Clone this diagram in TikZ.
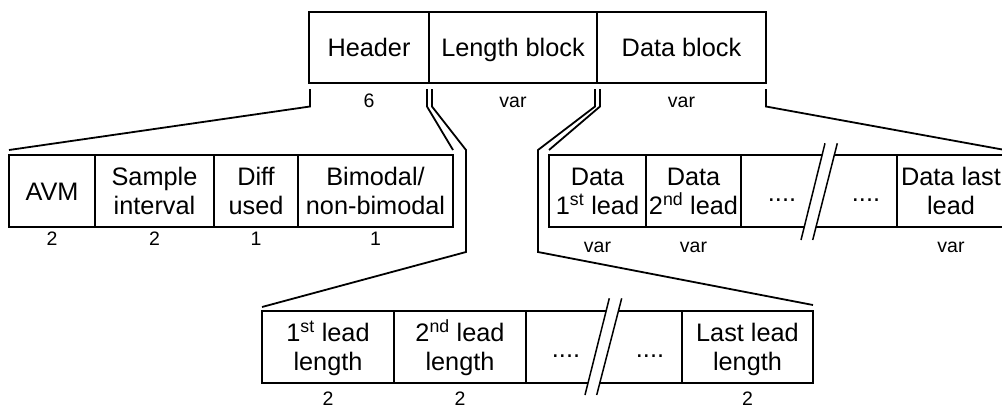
\documentclass[tikz,border=0pt]{standalone}
\usepackage{fontspec}
\setmainfont{Liberation Sans}
\begin{document}
\begin{tikzpicture}[x=1pt,y=-1pt,
  every path/.style={line width=1.8pt},
  cell/.style={draw, line width=1.8pt, inner sep=0pt, anchor=center,
    align=center, font=\fontsize{25.3}{29.5}\selectfont,
    text height=18.1pt, text depth=0pt},
  twoline/.style={text height=47.6pt},
  toprow/.style={cell, minimum height=71pt},
  row/.style={cell, minimum height=72pt},
  lbl/.style={anchor=base, inner sep=0pt, font=\fontsize{19.5}{22}\selectfont},
  dots/.style={anchor=base, inner sep=0pt, font=\fontsize{25.3}{29.5}\selectfont},
  conn/.style={draw, line width=1.8pt},
  slash/.style={line width=1.5pt}]
\useasboundingbox (0,0) rectangle (1002,408);

% top level record
\node[toprow, minimum width=120pt] (hdr)  at (369,47.5)   {Header};
\node[toprow, minimum width=168pt] (lenb) at (513,47.5)   {Length block};
\node[toprow, minimum width=169pt] (datb) at (681.5,47.5) {Data block};
\node[lbl] (hdrsz)  at (369,107)   {6};
\node[lbl] (lenbsz) at (513,107)   {var};
\node[lbl] (datbsz) at (681.5,107) {var};

% header fields
\node[row, minimum width=86pt]  (avm) at (52,191)    {AVM};
\node[row, twoline, minimum width=119pt] (smp) at (154.5,191) {Sample\\interval};
\node[row, twoline, minimum width=84pt]  (dif) at (256,191)   {Diff\\used};
\node[row, twoline, minimum width=155pt] (bim) at (375.5,191) {Bimodal/\\non-bimodal};
\node[lbl] (avmsz) at (52,245)    {2};
\node[lbl] (smpsz) at (154.5,245) {2};
\node[lbl] (difsz) at (256,245)   {1};
\node[lbl] (bimsz) at (375.5,245) {1};

% data block fields
\node[row, twoline, minimum width=97pt]  (d1) at (597.5,191) {Data\\1\textsuperscript{st} lead};
\node[row, twoline, minimum width=95pt]  (d2) at (693.5,191) {Data\\2\textsuperscript{nd} lead};
\node[row, minimum width=156pt] (dd) at (819,191) {};
\node[row, twoline, minimum width=108pt] (dl) at (951,191) {Data last\\lead};
\node[dots] (ddl) at (782,201) {....};
\node[dots] (ddr) at (866,201) {....};
\node[lbl] (d1sz) at (597.5,252) {var};
\node[lbl] (d2sz) at (693.5,252) {var};
\node[lbl] (dlsz) at (951,252)   {var};
\fill[white] (801,240) -- (812.7,240) -- (837.3,143.3) -- (825,143.3) -- cycle;
\draw[slash] (801,240) -- (825,143.3);
\draw[slash] (812.7,240) -- (837.3,143.3);

% length block fields
\node[row, twoline, minimum width=132pt] (l1) at (328,347) {1\textsuperscript{st} lead\\length};
\node[row, twoline, minimum width=132pt] (l2) at (460,347) {2\textsuperscript{nd} lead\\length};
\node[row, minimum width=156pt] (ld) at (604,347) {};
\node[row, twoline, minimum width=131pt] (ll) at (747.5,347) {Last lead\\length};
\node[dots] (ldl) at (566,357) {....};
\node[dots] (ldr) at (650,357) {....};
\node[lbl] (l1sz) at (328,405.5)   {2};
\node[lbl] (l2sz) at (460,405.5)   {2};
\node[lbl] (llsz) at (747.5,405.5) {2};
\fill[white] (585,395) -- (596.7,395) -- (621.7,298.3) -- (609.3,298.3) -- cycle;
\draw[slash] (585,395) -- (609.3,298.3);
\draw[slash] (596.7,395) -- (621.7,298.3);

% expansion brackets
\coordinate (hA) at (310,89);   \coordinate (hB) at (310,106.5); \coordinate (hC) at (9,150);
\coordinate (hD) at (427,89);   \coordinate (hE) at (427,106.5); \coordinate (hF) at (453,150);
\coordinate (lA) at (432,89);   \coordinate (lB) at (432,106.5); \coordinate (lC) at (466,150);
\coordinate (lD) at (466,252);  \coordinate (lE) at (262,307);
\coordinate (lF) at (595,89);   \coordinate (lG) at (595,106.5); \coordinate (lH) at (538,150);
\coordinate (lI) at (538,252);  \coordinate (lJ) at (813,305);
\coordinate (dA) at (600,89);   \coordinate (dB) at (600,106.5); \coordinate (dC) at (549,150);
\coordinate (dD) at (766,89);   \coordinate (dE) at (766,106.5); \coordinate (dF) at (1005,150);

\draw[conn] (hA) -- (hB) -- (hC);
\draw[conn] (hD) -- (hE) -- (hF);
\draw[conn] (lA) -- (lB) -- (lC) -- (lD) -- (lE);
\draw[conn] (lF) -- (lG) -- (lH) -- (lI) -- (lJ);
\draw[conn] (dA) -- (dB) -- (dC);
\draw[conn] (dD) -- (dE) -- (dF);
\end{tikzpicture}
\end{document}
